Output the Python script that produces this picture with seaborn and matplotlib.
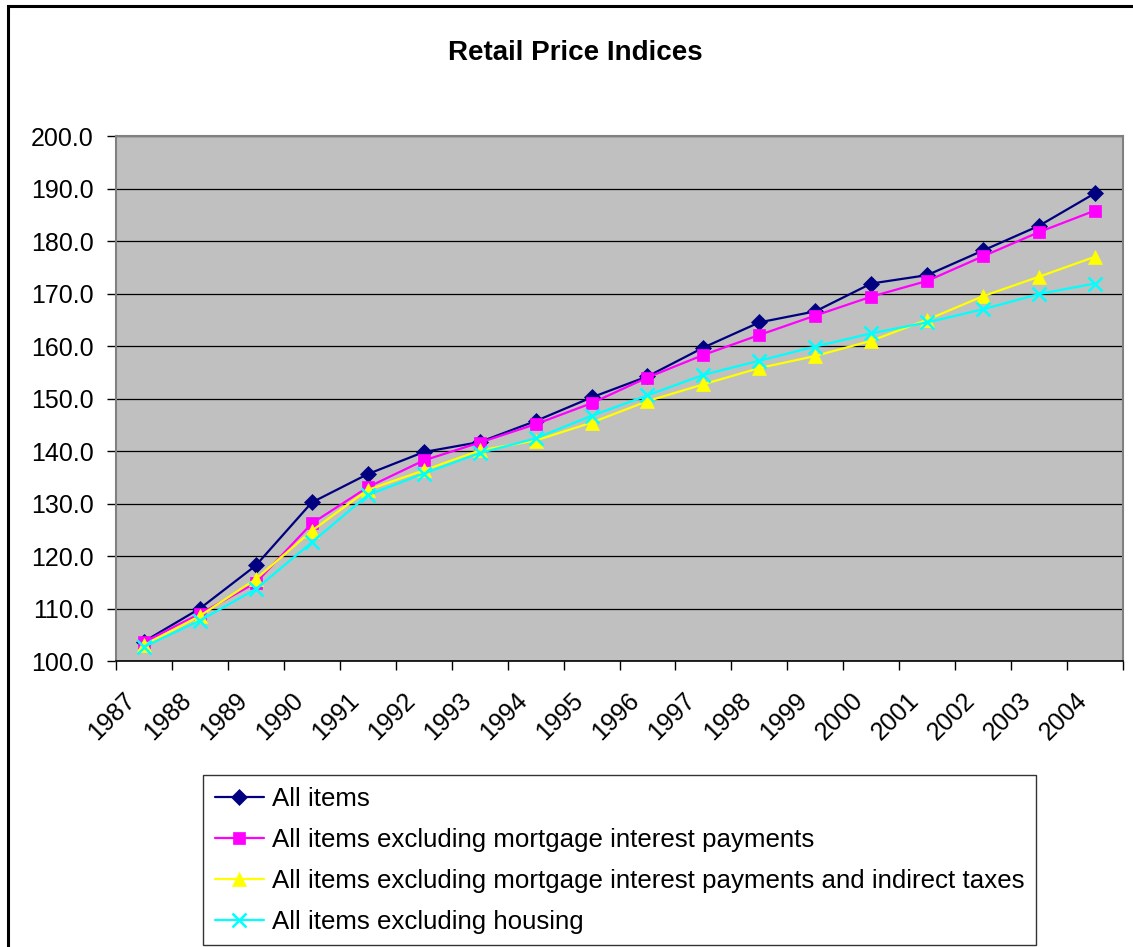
import matplotlib
matplotlib.use("Agg")
import matplotlib.pyplot as plt
import matplotlib.transforms as mtransforms
import seaborn as sns
import pandas as pd
from matplotlib.patches import Rectangle
from matplotlib.ticker import FixedLocator, FuncFormatter

years = ["1987", "1988", "1989", "1990", "1991", "1992", "1993", "1994", "1995",
         "1996", "1997", "1998", "1999", "2000", "2001", "2002", "2003", "2004"]
all_items = [103.7, 110.0, 118.2, 130.2, 135.6, 139.8, 141.7, 145.7, 150.2,
             154.2, 159.7, 164.5, 166.6, 171.9, 173.5, 178.2, 182.9, 189.1]
exc_mip = [103.6, 109.0, 114.9, 126.2, 133.1, 138.2, 141.6, 145.1, 149.1,
           154.0, 158.3, 162.1, 165.8, 169.4, 172.4, 177.1, 181.7, 185.8]
exc_mip_tax = [103.0, 108.6, 115.6, 124.8, 132.6, 136.3, 140.1, 142.0, 145.4,
               149.5, 152.7, 155.8, 158.1, 161.0, 165.0, 169.5, 173.2, 177.0]
exc_housing = [102.7, 107.7, 113.7, 122.6, 131.6, 135.7, 139.6, 142.4, 146.7,
               150.6, 154.5, 157.2, 159.9, 162.4, 164.5, 167.0, 169.9, 171.9]

series_names = ["All items",
                "All items excluding mortgage interest payments",
                "All items excluding mortgage interest payments and indirect taxes",
                "All items excluding housing"]
series_values = [all_items, exc_mip, exc_mip_tax, exc_housing]
colors = ["#000080", "#FF00FF", "#FFFF00", "#00FFFF"]
markers = ["D", "s", "^", "x"]
msizes = [8.5, 8.5, 10.5, 10]

sns.set_style("white")
plt.rcParams["font.family"] = ["Liberation Sans", "DejaVu Sans"]
plt.rcParams["text.color"] = "black"
plt.rcParams["xtick.color"] = "black"
plt.rcParams["ytick.color"] = "black"

fig = plt.figure(figsize=(11.33, 9.47), dpi=100)
W, H = 1133, 947
ax = fig.add_axes([116 / W, 1 - 661 / H, (1123 - 116) / W, (661 - 136) / H])
ax.set_facecolor("#C0C0C0")

xpos = list(range(len(years)))
for name, vals, c, m, ms in zip(series_names, series_values, colors, markers, msizes):
    df = pd.DataFrame({"x": xpos, "y": vals})
    sns.lineplot(data=df, x="x", y="y", ax=ax, color=c, marker=m, markersize=ms,
                 markeredgecolor=c, markeredgewidth=1.8 if m == "x" else 0.5,
                 linewidth=1.6, label=name, sort=False)

ax.set_xlim(-0.5, len(years) - 0.5)
ax.set_ylim(100, 200)
ax.set_yticks([100 + 10 * i for i in range(11)])
ax.yaxis.set_major_formatter(FuncFormatter(lambda v, p: f"{v:.1f}"))
ax.grid(axis="y", color="black", linewidth=0.9)
ax.grid(axis="x", visible=False)
ax.set_axisbelow(True)

ax.set_xticks(xpos)
ax.set_xticklabels(years, rotation=45, ha="right", va="center", rotation_mode="anchor")
ax.xaxis.set_minor_locator(FixedLocator([i - 0.5 for i in range(len(years) + 1)]))
ax.tick_params(axis="x", which="major", length=0, pad=20, labelsize=18, colors="black")
ax.tick_params(axis="x", which="minor", length=6.5, width=1, color="black", direction="out", bottom=True)
ax.tick_params(axis="y", which="major", length=6.5, width=1, color="black", direction="out",
               left=True, pad=9.5, labelsize=18, labelcolor="black")
offset = mtransforms.ScaledTranslation(-12 / 100, -8 / 100, fig.dpi_scale_trans)
for lab in ax.get_xticklabels():
    lab.set_transform(lab.get_transform() + offset)
ax.set_xlabel("")
ax.set_ylabel("")

for side in ["top", "right", "left"]:
    ax.spines[side].set_color("#808080")
    ax.spines[side].set_linewidth(1.5)
ax.spines["bottom"].set_color("black")
ax.spines["bottom"].set_linewidth(1.2)

handles, labels = ax.get_legend_handles_labels()
ax.get_legend().remove()
leg = fig.legend(handles, labels, loc="upper left",
                 bbox_to_anchor=(203 / W, 1 - 775 / H), bbox_transform=fig.transFigure,
                 fontsize=18.6, frameon=True, fancybox=False, edgecolor="black",
                 handlelength=1.9, handletextpad=0.31, labelspacing=0.66,
                 borderpad=0.45, borderaxespad=0)
leg.get_frame().set_linewidth(1.0)
for t in leg.get_texts():
    t.set_color("black")

fig.text(575 / W, 1 - 53 / H, "Retail Price Indices", ha="center", va="center",
         fontsize=20, fontweight="bold", color="black")

fig.patches.append(Rectangle((8 / W, -0.05), 1.2, 1 - 6 / H + 0.05, transform=fig.transFigure,
                             fill=False, edgecolor="black", linewidth=2.2))

fig.savefig("out.png", dpi=100)
